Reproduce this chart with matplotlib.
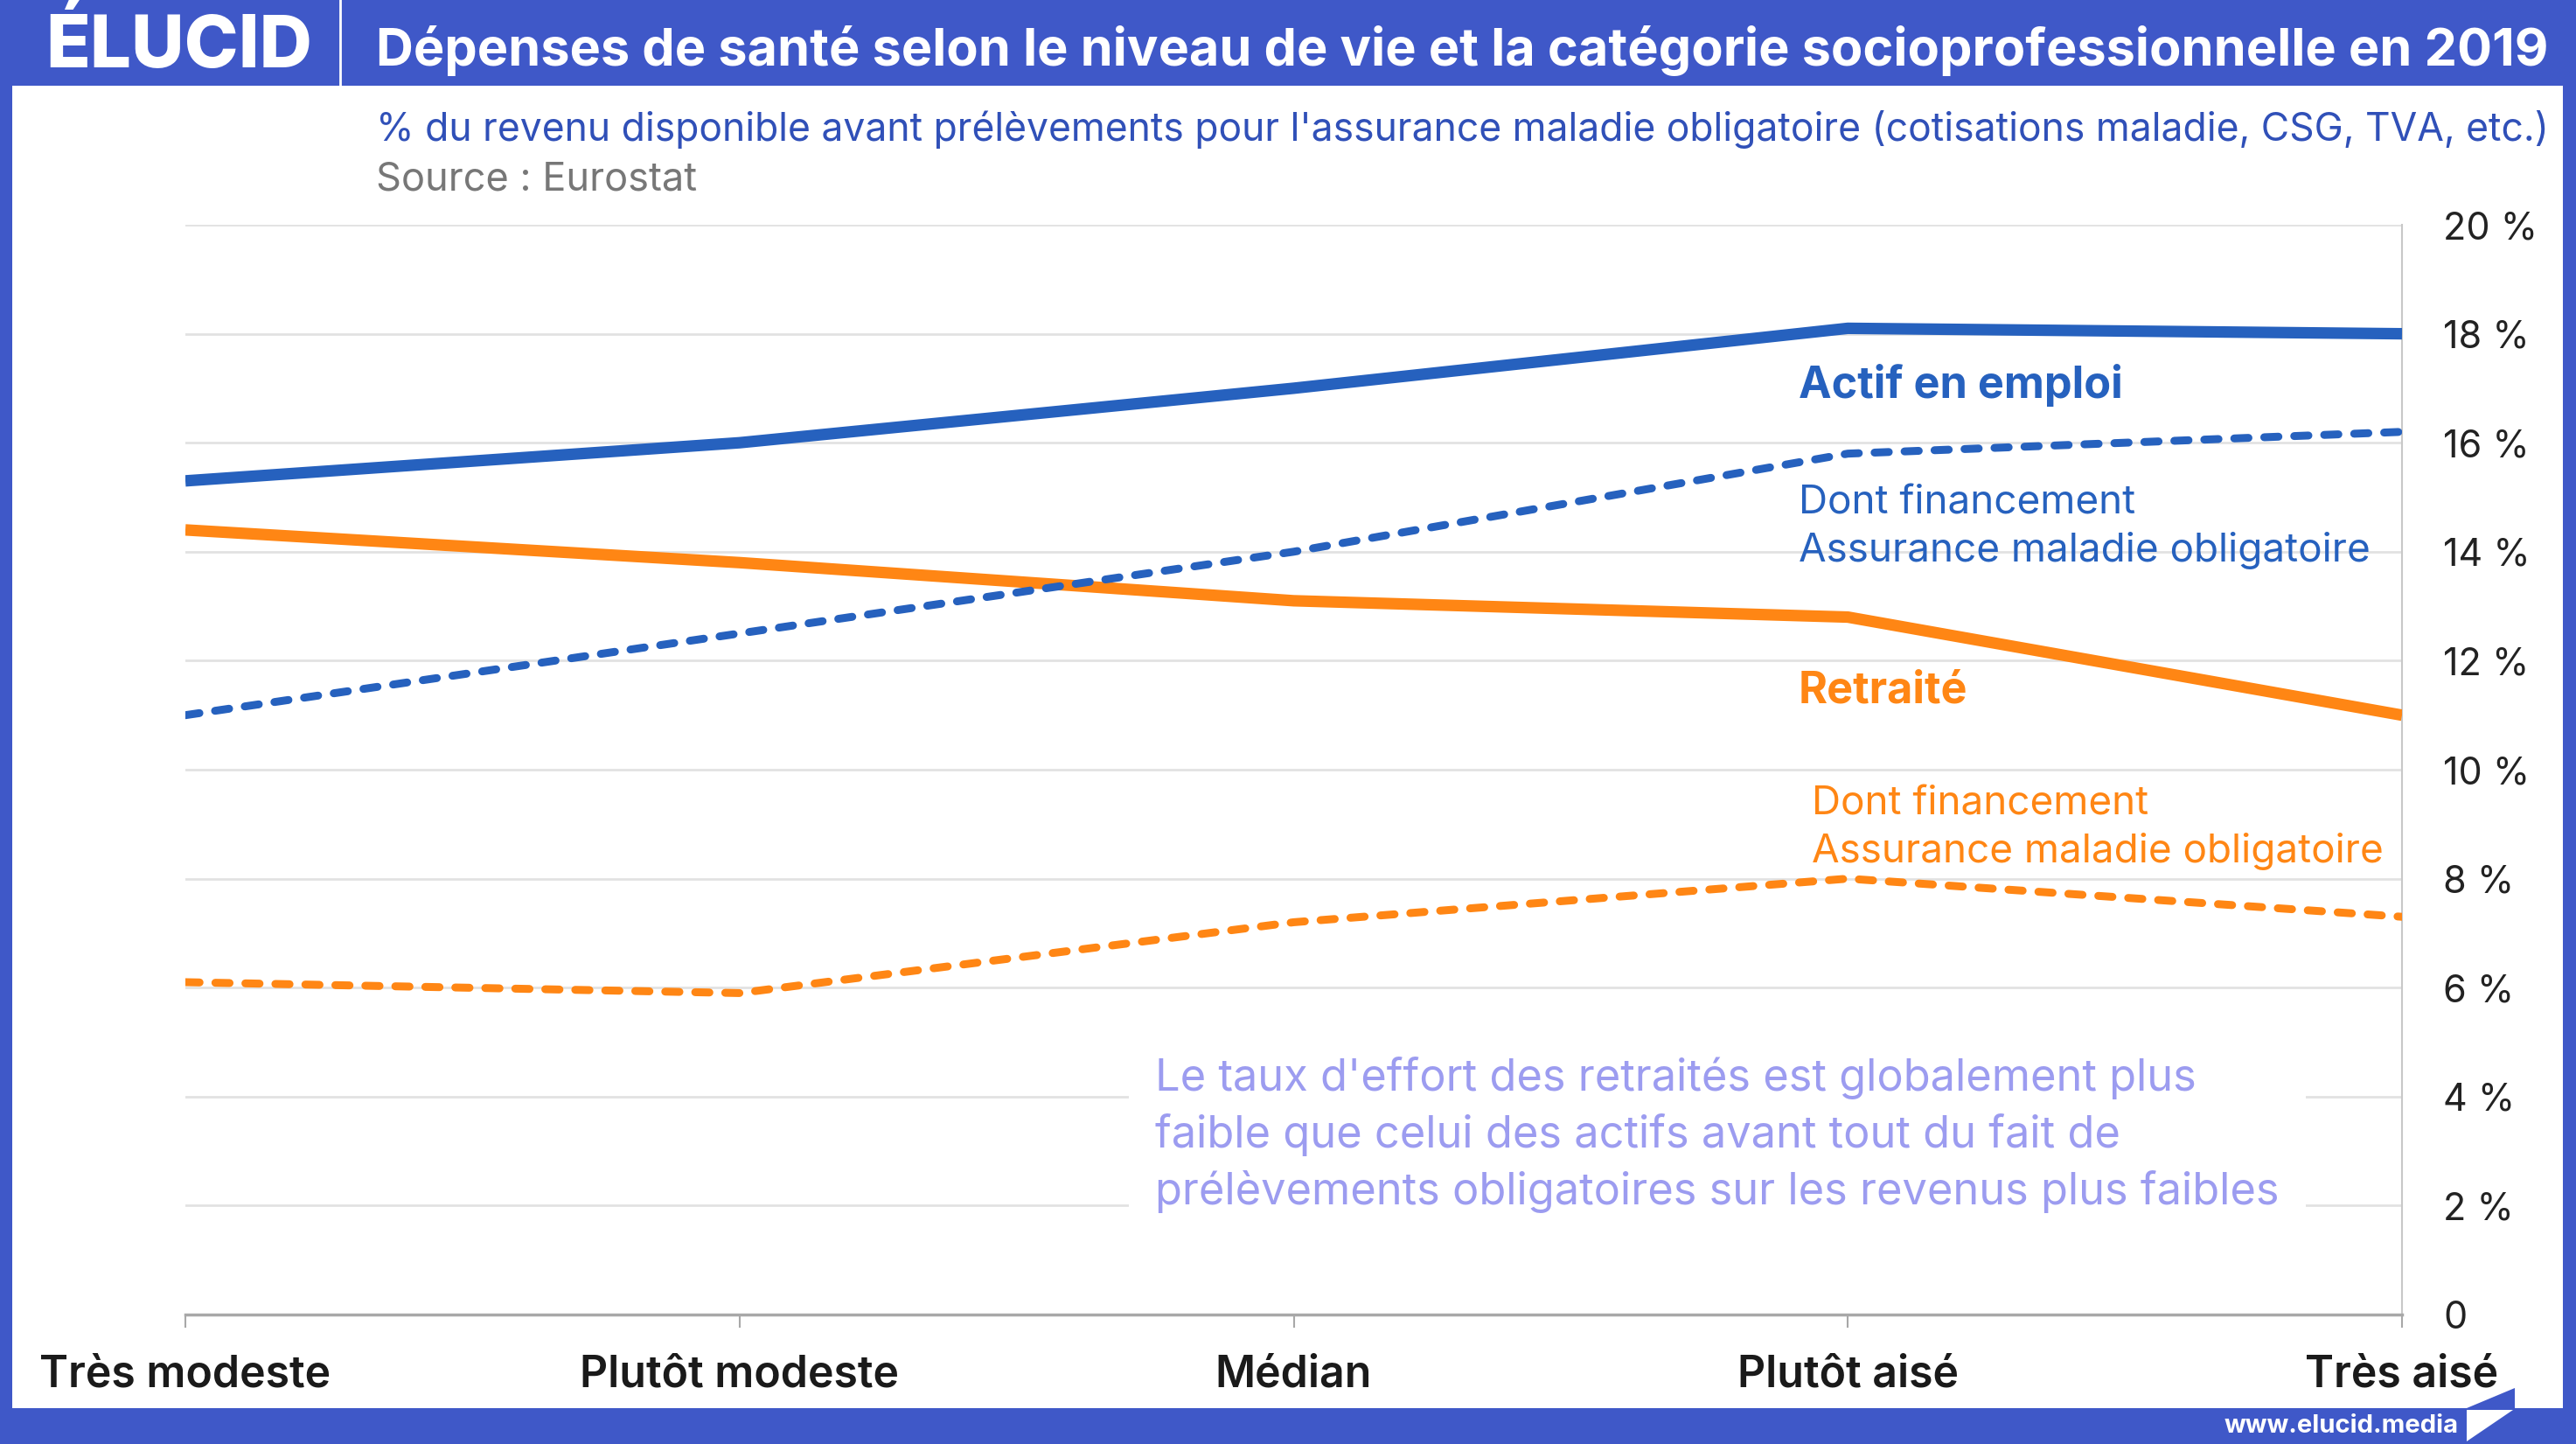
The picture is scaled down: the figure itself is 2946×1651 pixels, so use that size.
import matplotlib
matplotlib.use("Agg")
import matplotlib.pyplot as plt
from matplotlib.patches import Rectangle, Polygon
from matplotlib.ticker import FixedLocator, FuncFormatter

plt.rcParams["font.family"] = ["Inter", "DejaVu Sans"]

# data (% of disposable income)
categories = ["Très modeste", "Plutôt modeste", "Médian", "Plutôt aisé", "Très aisé"]
actif_total = [15.3, 16.0, 17.0, 18.1, 18.0]
actif_amo = [11.0, 12.5, 14.0, 15.8, 16.2]
retraite_total = [14.4, 13.8, 13.1, 12.8, 11.0]
retraite_amo = [6.1, 5.9, 7.2, 8.0, 7.3]
y_ticks = [0, 2, 4, 6, 8, 10, 12, 14, 16, 18, 20]

TITLE = "Dépenses de santé selon le niveau de vie et la catégorie socioprofessionnelle en 2019"
SUBTITLE = ("% du revenu disponible avant prélèvements pour l'assurance maladie obligatoire "
            "(cotisations maladie, CSG, TVA, etc.)")
SOURCE = "Source : Eurostat"
NOTE = ("Le taux d'effort des retraités est globalement plus\n"
        "faible que celui des actifs avant tout du fait de\n"
        "prélèvements obligatoires sur les revenus plus faibles")

FRAME = "#3F58C8"
BLUE = "#2661BE"
ORANGE = "#FF8614"
NOTE_COL = "#9C9CF0"
GRID = "#E2E2E2"
AXIS = "#A8A8A8"

W, H = 2946, 1651


def fx(px):
    return px / W


def fy(py):
    return 1 - py / H


fig = plt.figure(figsize=(W / 100, H / 100), dpi=100)
fig.patch.set_facecolor(FRAME)

# white content panel inside the blue frame
fig.add_artist(Rectangle((fx(14), fy(1610)), fx(2931) - fx(14), fy(98) - fy(1610),
                         transform=fig.transFigure, facecolor="white", edgecolor="none", zorder=-10))
# divider in the header between logo and title
fig.add_artist(plt.Line2D([fx(389), fx(389)], [fy(0), fy(98)], transform=fig.transFigure,
                          color="white", lw=2))

fig.text(fx(52), fy(54), "ÉLUCID", color="white", fontsize=60, fontweight="heavy",
         va="center", ha="left")
fig.text(fx(430), fy(58), TITLE, color="white", fontsize=42.8, fontweight="bold",
         va="center", ha="left")
fig.text(fx(430), fy(148), SUBTITLE, color="#3050B8", fontsize=32, va="center", ha="left")
fig.text(fx(430), fy(205), SOURCE, color="#777777", fontsize=32.5, va="center", ha="left")

# footer
fig.text(fx(2812), fy(1630), "www.elucid.media", color="white", fontsize=21, fontweight="bold",
         va="center", ha="right")
fig.add_artist(Polygon([(fx(2821), fy(1612)), (fx(2874), fy(1612)), (fx(2821), fy(1648))],
                       closed=True, transform=fig.transFigure, facecolor="white", edgecolor="none"))
fig.add_artist(Polygon([(fx(2876), fy(1587)), (fx(2876), fy(1610)), (fx(2821), fy(1610))],
                       closed=True, transform=fig.transFigure, facecolor=FRAME, edgecolor="none"))

ax = fig.add_axes([fx(212), fy(1503), fx(2747) - fx(212), fy(257) - fy(1503)])
ax.set_facecolor("none")
x = list(range(len(categories)))

ax.plot(x, actif_total, color=BLUE, lw=9.5, solid_capstyle="butt", solid_joinstyle="round", zorder=3)
ax.plot(x, retraite_total, color=ORANGE, lw=9.5, solid_capstyle="butt", solid_joinstyle="round", zorder=3)
ax.plot(x, actif_amo, color=BLUE, lw=6.5, dashes=(1.8, 2.0), dash_capstyle="round", zorder=3)
ax.plot(x, retraite_amo, color=ORANGE, lw=6.5, dashes=(1.8, 2.0), dash_capstyle="round", zorder=3)

ax.set_xlim(0, len(categories) - 1)
ax.set_ylim(0, 20)
ax.yaxis.tick_right()
ax.yaxis.set_major_locator(FixedLocator(y_ticks))
ax.yaxis.set_major_formatter(FuncFormatter(lambda v, _: "0" if v == 0 else f"{v:.0f} %"))
ax.tick_params(axis="y", length=0, pad=34, labelsize=31, labelcolor="#222222")
for lab in ax.get_yticklabels():
    lab.set_horizontalalignment("left")
ax.set_xticks(x)
ax.set_xticklabels(categories, fontsize=36, fontweight="semibold", color="#1A1A1A")
ax.tick_params(axis="x", length=11, width=1.5, color=AXIS, pad=22)

ax.grid(axis="y", color=GRID, lw=2)
ax.set_axisbelow(True)
for side in ["left", "top"]:
    ax.spines[side].set_visible(False)
ax.spines["bottom"].set_color(AXIS)
ax.spines["bottom"].set_linewidth(2.5)
ax.spines["right"].set_color("#C8C8C8")
ax.spines["right"].set_linewidth(1.5)

# series labels
ax.text(2.911, 17.05, "Actif en emploi", color=BLUE, fontsize=36.3, fontweight="bold", va="center")
ax.text(2.911, 14.45, "Dont financement\nAssurance maladie obligatoire", color=BLUE, fontsize=33,
        va="center", linespacing=1.36)
ax.text(2.911, 11.45, "Retraité", color=ORANGE, fontsize=36.3, fontweight="bold", va="center")
ax.text(2.935, 8.93, "Dont financement\nAssurance maladie obligatoire", color=ORANGE, fontsize=33,
        va="center", linespacing=1.36)
ax.text(1.75, 3.30, NOTE, color=NOTE_COL, fontsize=36.4, va="center", linespacing=1.41,
        bbox=dict(facecolor="white", edgecolor="none", pad=22), zorder=2)

fig.savefig("out.png", dpi=100, facecolor=fig.get_facecolor())
